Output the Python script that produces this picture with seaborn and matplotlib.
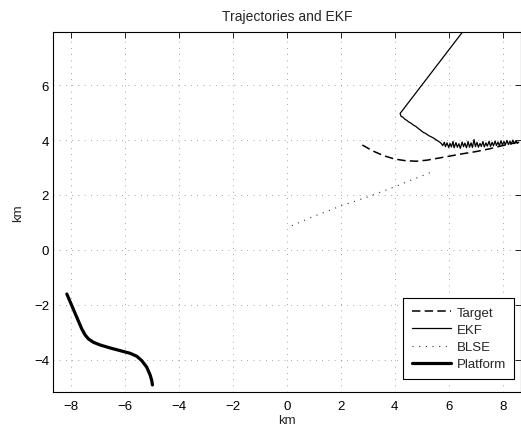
import numpy as np
import pandas as pd
import matplotlib
matplotlib.use("Agg")
import matplotlib.pyplot as plt
import seaborn as sns

# tracks (km)
target_x = [2.80, 3.20, 3.60, 4.00, 4.40, 4.80, 5.20, 5.60, 6.00, 6.50, 7.00, 7.50, 8.00, 8.60]
target_y = [3.82, 3.60, 3.43, 3.31, 3.25, 3.23, 3.27, 3.34, 3.41, 3.50, 3.58, 3.68, 3.80, 3.93]

ekf_x = [6.60, 4.20, 4.24, 4.30, 4.38, 4.45, 4.52, 4.60, 4.69, 4.78, 4.88, 4.96,
         5.06, 5.15, 5.25, 5.35, 5.43, 5.52, 5.60, 5.68, 5.74,
         5.78, 5.84, 5.88, 5.94, 6.00, 6.05, 6.10, 6.16, 6.20, 6.27, 6.32, 6.38,
         6.43, 6.50, 6.55, 6.60, 6.66, 6.72, 6.77, 6.83, 6.88, 6.94, 6.99, 7.05,
         7.10, 7.16, 7.21, 7.27, 7.32, 7.38, 7.43, 7.50, 7.55, 7.61, 7.66, 7.72,
         7.77, 7.83, 7.88, 7.94, 7.99, 8.05, 8.10, 8.16, 8.21, 8.27, 8.32, 8.38,
         8.43, 8.49, 8.55, 8.60]
ekf_y = [8.05, 4.97, 4.86, 4.84, 4.76, 4.72, 4.66, 4.62, 4.55, 4.50, 4.42, 4.36,
         4.28, 4.24, 4.17, 4.12, 4.08, 4.02, 3.97, 3.92, 3.86,
         3.80, 3.92, 3.76, 3.90, 3.73, 3.88, 3.75, 3.95, 3.72, 3.91, 3.74, 3.87,
         3.70, 3.93, 3.76, 3.89, 3.72, 3.95, 3.74, 3.90, 3.73, 4.02, 3.76, 3.92,
         3.74, 3.88, 3.77, 3.95, 3.75, 3.90, 3.78, 3.96, 3.77, 3.92, 3.79, 3.97,
         3.80, 3.93, 3.79, 3.98, 3.82, 3.95, 3.83, 3.99, 3.84, 3.96, 3.86, 4.00,
         3.87, 3.97, 3.88, 3.93]

blse_x = [0.19, 1.00, 2.00, 3.00, 4.00, 5.37]
blse_y = [0.88, 1.22, 1.60, 1.93, 2.30, 2.84]

platform_x = [-8.149, -7.964, -7.779, -7.594, -7.470, -7.347, -7.162, -6.915, -6.544,
              -6.174, -5.804, -5.557, -5.372, -5.186, -5.063, -5.001, -4.977]
platform_y = [-1.608, -2.033, -2.458, -2.882, -3.101, -3.246, -3.368, -3.465, -3.574,
              -3.671, -3.768, -3.877, -4.035, -4.278, -4.557, -4.763, -4.921]

xticks = [-8, -6, -4, -2, 0, 2, 4, 6, 8]
yticks = [-4, -2, 0, 2, 4, 6]

sns.set_style("white")
plt.rcParams["font.family"] = ["Liberation Sans", "DejaVu Sans"]
plt.rcParams["font.size"] = 9.5

fig = plt.figure(figsize=(5.21, 4.27), dpi=100)
ax = fig.add_axes([0.1023, 0.0789, 0.8977, 0.8445])

sns.lineplot(x=target_x, y=target_y, sort=False, estimator=None, ax=ax,
             color="black", lw=1.1, linestyle=(0, (5.5, 2.8)), label="Target")
sns.lineplot(x=ekf_x, y=ekf_y, sort=False, estimator=None, ax=ax,
             color="black", lw=0.9, label="EKF")
sns.lineplot(x=blse_x, y=blse_y, sort=False, estimator=None, ax=ax,
             color="#333333", lw=0.8, linestyle=(0, (1, 5)), label="BLSE")
sns.lineplot(x=platform_x, y=platform_y, sort=False, estimator=None, ax=ax,
             color="black", lw=2.3, label="Platform")

ax.set_xlim(-8.65, 8.68)
ax.set_ylim(-5.19, 7.95)
ax.set_xticks(xticks)
ax.set_yticks(yticks)
ax.set_xticklabels([f"\u2212{-t}" if t < 0 else str(t) for t in xticks])
ax.set_yticklabels([f"\u2212{-t}" if t < 0 else str(t) for t in yticks])
ax.tick_params(direction="in", length=4, width=0.6, top=True, right=True,
               colors="black", labelsize=9.5)
ax.tick_params(axis="x", pad=5.5)
ax.tick_params(axis="y", pad=3)
for s in ax.spines.values():
    s.set_linewidth(0.8)
    s.set_color("black")

ax.grid(True, color="#555555", lw=0.5, linestyle=(0, (1, 8)))

ax.set_title("Trajectories and EKF", fontsize=10, pad=8.4)
ax.set_xlabel("km", fontsize=9.5, labelpad=1.5)
ax.set_ylabel("km", fontsize=9.5, labelpad=7)

leg = ax.legend(loc="lower right", bbox_to_anchor=(0.9857, 0.0369), borderaxespad=0,
                fancybox=False, framealpha=1, edgecolor="black", fontsize=9.5,
                handlelength=3.0, handletextpad=0.38, borderpad=0.65, labelspacing=0.38)
leg.get_frame().set_linewidth(0.8)

fig.savefig("out.png", dpi=100)
